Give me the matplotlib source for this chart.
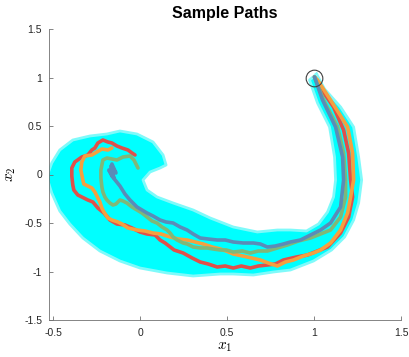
import matplotlib
matplotlib.use("Agg")
import matplotlib.pyplot as plt
import numpy as np

# ---- data (in pixel-derived data units) ----
PX0, PXS = 140.0, 173.5   # x=0 pixel, pixels per unit
PY0, PYS = 174.5, 97.0    # y=0 pixel, pixels per unit

def to_data(pts):
    a = np.array(pts, dtype=float)
    return (a[:, 0] - PX0) / PXS, (PY0 - a[:, 1]) / PYS

# envelope of the cyan sample-path cloud
band_outer_px = [(316, 74), (324, 89), (340, 107), (353, 127), (358, 157), (361, 180),
                 (358, 203), (353, 220), (344, 237), (331, 250), (313, 261), (290, 270),
                 (273, 272), (253, 275), (233, 274), (220, 274), (193, 276), (167, 273),
                 (140, 268), (120, 261), (100, 251), (83, 238), (70, 224), (60, 211),
                 (52, 193), (47, 177), (52, 163), (60, 150), (73, 140), (90, 136),
                 (107, 134), (120, 131), (137, 134), (153, 142), (163, 155), (166, 165)]
band_inner_px = [(160, 168), (150, 172), (143, 180), (147, 190), (157, 197), (173, 203),
                 (193, 210), (210, 218), (233, 227), (257, 232), (277, 230), (290, 230),
                 (306, 231), (318, 224), (327, 212), (333, 197), (335, 180), (334, 157),
                 (329, 127), (317, 103), (309, 80)]

red_px = [(314, 77), (320, 88), (333, 107), (343, 130), (348, 153), (350, 180), (352, 197),
          (348, 217), (340, 233), (327, 247), (307, 255), (296, 257), (283, 260), (275, 264),
          (267, 265), (258, 266), (250, 268), (241, 266), (233, 268), (225, 266), (217, 267),
          (208, 264), (200, 262), (192, 258), (183, 253), (174, 250), (165, 243), (160, 240),
          (155, 235), (147, 234), (140, 232), (132, 228), (125, 225), (117, 224), (110, 220),
          (104, 213), (98, 208), (93, 202), (88, 200), (82, 197), (78, 195), (74, 190),
          (73, 185), (72, 176), (72, 168), (75, 162), (82, 157), (88, 155), (92, 150),
          (95, 148), (98, 143), (103, 140), (108, 142), (112, 143), (117, 146), (122, 148),
          (128, 150), (132, 153), (135, 155)]
orange_px = [(314, 77), (317, 80), (330, 100), (347, 127), (352, 153), (353, 180), (350, 197),
             (347, 213), (340, 230), (330, 243), (320, 250), (313, 253), (303, 256), (293, 260),
             (285, 262), (277, 266), (268, 263), (260, 260), (247, 257), (233, 254), (226, 251),
             (220, 249), (212, 247), (203, 244), (195, 242), (187, 240), (178, 239), (170, 237),
             (161, 234), (153, 233), (145, 231), (137, 230), (128, 228), (122, 224), (118, 222),
             (112, 220), (108, 218), (104, 212), (102, 208), (100, 202), (98, 198), (95, 192),
             (92, 188), (88, 186), (84, 184), (83, 180), (81, 170), (82, 162), (85, 156),
             (92, 155), (97, 152), (102, 149), (108, 150), (112, 148)]
green_px = [(314, 77), (323, 100), (337, 127), (343, 153), (345, 180), (345, 197), (340, 217),
            (330, 230), (320, 234), (310, 238), (298, 241), (287, 245), (277, 248), (267, 251),
            (258, 251), (250, 253), (242, 251), (233, 252), (226, 250), (220, 250), (213, 249),
            (207, 248), (200, 248), (193, 247), (187, 244), (183, 243), (177, 240), (173, 237),
            (170, 233), (167, 230), (162, 227), (157, 223), (152, 221), (147, 217), (142, 213),
            (137, 210), (132, 207), (127, 203), (123, 201), (120, 200), (116, 204), (113, 205),
            (110, 203), (107, 200), (105, 197), (103, 192), (102, 187), (101, 178), (101, 170),
            (103, 160), (107, 158), (112, 159), (117, 160), (123, 157), (130, 156), (134, 160),
            (136, 164), (138, 168)]
blue_px = [(314, 77), (322, 100), (335, 127), (342, 157), (343, 180), (340, 207), (330, 223),
           (320, 230), (310, 235), (300, 240), (290, 242), (283, 244), (275, 246), (267, 247),
           (260, 244), (253, 243), (243, 243), (233, 242), (225, 240), (217, 240), (208, 239),
           (200, 238), (193, 234), (187, 230), (180, 227), (173, 223), (166, 222), (160, 220),
           (153, 216), (147, 213), (142, 210), (137, 207), (133, 203), (130, 200), (125, 194),
           (120, 186), (116, 181), (112, 176), (109, 170), (114, 178), (111, 166), (116, 173),
           (112, 164)]

start_point = (1.0, 1.0)
x_ticks = [-0.5, 0, 0.5, 1, 1.5]
y_ticks = [-1.5, -1, -0.5, 0, 0.5, 1, 1.5]
x_tick_labels = ["-0.5", "0", "0.5", "1", "1.5"]
y_tick_labels = ["-1.5", "-1", "-0.5", "0", "0.5", "1", "1.5"]

# ---- figure ----
plt.rcParams['font.family'] = ['Liberation Sans', 'DejaVu Sans']
plt.rcParams['mathtext.fontset'] = 'cm'
fig = plt.figure(figsize=(4.09, 3.57), dpi=100)
ax = fig.add_axes([49 / 409, 1 - 320 / 357, 352 / 409, 291 / 357])

ox, oy = to_data(band_outer_px)
ix, iy = to_data(band_inner_px)
bx = np.concatenate([ox, ix])
by = np.concatenate([oy, iy])
ax.plot(np.append(bx, bx[0]), np.append(by, by[0]), color='#7FFAFA', lw=2.0,
        solid_joinstyle='round')
ax.fill(bx, by, color='#00FFFF', lw=0)

for pts, col in [(red_px, '#E0504A'), (orange_px, '#F5A03F'),
                 (green_px, '#80B878'), (blue_px, '#5A8CB8')]:
    xx, yy = to_data(pts)
    ax.plot(xx, yy, color=col, lw=2.6, solid_joinstyle='round', solid_capstyle='round')

ax.plot([start_point[0]], [start_point[1]], 'o', mfc='none', mec='#404040',
        ms=12, mew=0.8)

ax.set_xlim(-0.523, 1.5)
ax.set_ylim(-1.5, 1.5)
ax.set_xticks(x_ticks)
ax.set_xticklabels(x_tick_labels)
ax.set_yticks(y_ticks)
ax.set_yticklabels(y_tick_labels)
for s in ['top', 'right']:
    ax.spines[s].set_visible(False)
for s in ['left', 'bottom']:
    ax.spines[s].set_color('#707070')
    ax.spines[s].set_linewidth(0.6)
ax.tick_params(direction='in', length=3, width=0.6, color='#707070',
               labelsize=7.5, labelcolor='#262626')
ax.tick_params(axis='x', pad=6)
ax.tick_params(axis='y', pad=5)
ax.set_title('Sample Paths', fontsize=11.5, fontweight='bold', pad=8)
ax.set_xlabel('$x_1$', fontsize=11, labelpad=1)
ax.set_ylabel('$x_2$', fontsize=11, labelpad=4)

fig.savefig('out.png', dpi=100)
